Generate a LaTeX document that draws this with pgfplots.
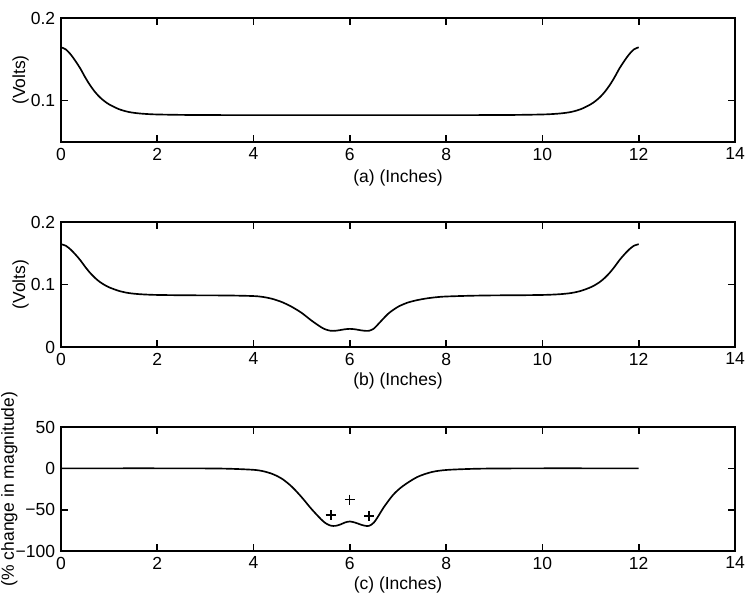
\documentclass[border=0pt]{standalone}
\usepackage{pgfplots}
\pgfplotsset{compat=1.18}
\usepackage{fontspec}
\setmainfont{Liberation Sans}
\pgfplotsset{
  base/.style={
    scale only axis, width=404.4pt, anchor=south west,
    xmin=0, xmax=14, xtick={0,2,4,6,8,10,12,14},
    tick align=inside, major tick length=4pt,
    axis line style={line width=1pt},
    every tick/.style={line width=1pt, black},
    tick label style={font=\fontsize{10.5}{12}\selectfont},
    label style={font=\fontsize{10.5}{12}\selectfont},
    /pgf/number format/assume math mode=true,
    xlabel style={at={(axis description cs:0.5,-0.29)}, anchor=center},
    ylabel style={at={(axis description cs:-0.060,0.5)}, anchor=center, rotate=0},
  },
  curve/.style={black, line width=1pt, smooth, no markers},
}
\begin{document}
\begin{tikzpicture}
\path[use as bounding box] (-36.6pt,-28.2pt) rectangle (412.2pt,330.6pt);
% (a)
\begin{axis}[base, at={(0pt,245.4pt)}, height=74.4pt,
  ymin=0.05, ymax=0.2, ytick={0.1,0.2}, yticklabels={0.1,0.2},
  xlabel={(a) (Inches)}, ylabel={(Volts)}]
\addplot[curve] coordinates {(0,0.1645)(0.1,0.162)(0.2,0.156)(0.3,0.148)(0.4,0.139)(0.5,0.1285)(0.6,0.119)(0.7,0.111)(0.8,0.1045)(0.9,0.0995)(1.0,0.0955)(1.2,0.0898)(1.4,0.0864)(1.6,0.0847)(1.8,0.0838)(2.0,0.0833)(2.5,0.0828)(3,0.0826)(4,0.0825)(5,0.0825)(6,0.0825)(7,0.0825)(8,0.0825)(9,0.0826)(9.5,0.0828)(10,0.0833)(10.2,0.0838)(10.4,0.0847)(10.6,0.0864)(10.8,0.0898)(11.0,0.0955)(11.1,0.0995)(11.2,0.1045)(11.3,0.111)(11.4,0.119)(11.5,0.1285)(11.6,0.139)(11.7,0.148)(11.8,0.156)(11.9,0.162)(12,0.1645)};
\end{axis}
% (b)
\begin{axis}[base, at={(0pt,122.4pt)}, height=75pt,
  ymin=0, ymax=0.2, ytick={0,0.1,0.2}, yticklabels={0,0.1,0.2},
  xlabel={(b) (Inches)}, ylabel={(Volts)},
  xlabel style={at={(axis description cs:0.5,-0.27)}}]
\addplot[curve] coordinates {(0,0.1645)(0.1,0.162)(0.2,0.156)(0.3,0.148)(0.4,0.139)(0.5,0.1285)(0.6,0.119)(0.7,0.111)(0.8,0.1045)(0.9,0.0995)(1.0,0.0955)(1.2,0.0898)(1.4,0.0864)(1.6,0.0847)(1.8,0.0838)(2.0,0.0833)(2.5,0.0828)(3,0.0826)(3.5,0.0824)(4.0,0.0815)(4.2,0.0800)(4.4,0.0768)(4.6,0.0715)(4.8,0.0640)(5.0,0.0545)(5.2,0.0425)(5.4,0.0318)(5.5,0.0280)(5.6,0.0260)(5.7,0.0260)(5.8,0.0271)(5.9,0.0284)(6.0,0.0290)(6.1,0.0284)(6.2,0.0271)(6.3,0.0260)(6.4,0.0260)(6.5,0.0295)(6.6,0.0375)(6.8,0.0535)(7.0,0.0643)(7.2,0.0710)(7.4,0.0750)(7.6,0.0778)(7.8,0.0797)(8.0,0.0808)(8.5,0.0820)(9,0.0826)(9.5,0.0828)(10,0.0833)(10.2,0.0838)(10.4,0.0847)(10.6,0.0864)(10.8,0.0898)(11.0,0.0955)(11.1,0.0995)(11.2,0.1045)(11.3,0.111)(11.4,0.119)(11.5,0.1285)(11.6,0.139)(11.7,0.148)(11.8,0.156)(11.9,0.162)(12,0.1645)};
\end{axis}
% (c)
\begin{axis}[base, at={(0pt,0pt)}, height=74.4pt,
  ymin=-100, ymax=50, ytick={-100,-50,0,50}, yticklabels={−100,−50,0,50},
  xlabel={(c) (Inches)}, ylabel={(\% change in magnitude)},
  xlabel style={at={(axis description cs:0.5,-0.275)}},
  ylabel style={at={(axis description cs:-0.0765,0.5)}}]
\addplot[curve] coordinates {(0,0)(1,0)(2,0)(3,-0.1)(3.5,-0.5)(4.0,-1.8)(4.2,-3.5)(4.4,-7)(4.6,-13)(4.8,-22.5)(5.0,-35)(5.2,-49)(5.4,-61.5)(5.5,-66.5)(5.6,-69.3)(5.7,-69.6)(5.8,-68)(5.9,-65.5)(6.0,-64.3)(6.1,-65.5)(6.2,-67.5)(6.3,-69.3)(6.4,-69.6)(6.5,-65.5)(6.6,-57)(6.7,-47.5)(6.9,-32)(7.1,-21.5)(7.4,-10.5)(7.7,-4.5)(8.0,-2)(8.5,-0.7)(9,-0.2)(10,0)(11,0)(12,0)};
\addplot[only marks, mark=+, mark size=3pt, black, mark options={line width=1.3pt}] coordinates {(5.6,-56.5)(6.4,-57.7)};
\addplot[only marks, mark=+, mark size=3pt, black, mark options={line width=0.7pt}] coordinates {(6.0,-38)};
\end{axis}
\end{tikzpicture}
\end{document}
